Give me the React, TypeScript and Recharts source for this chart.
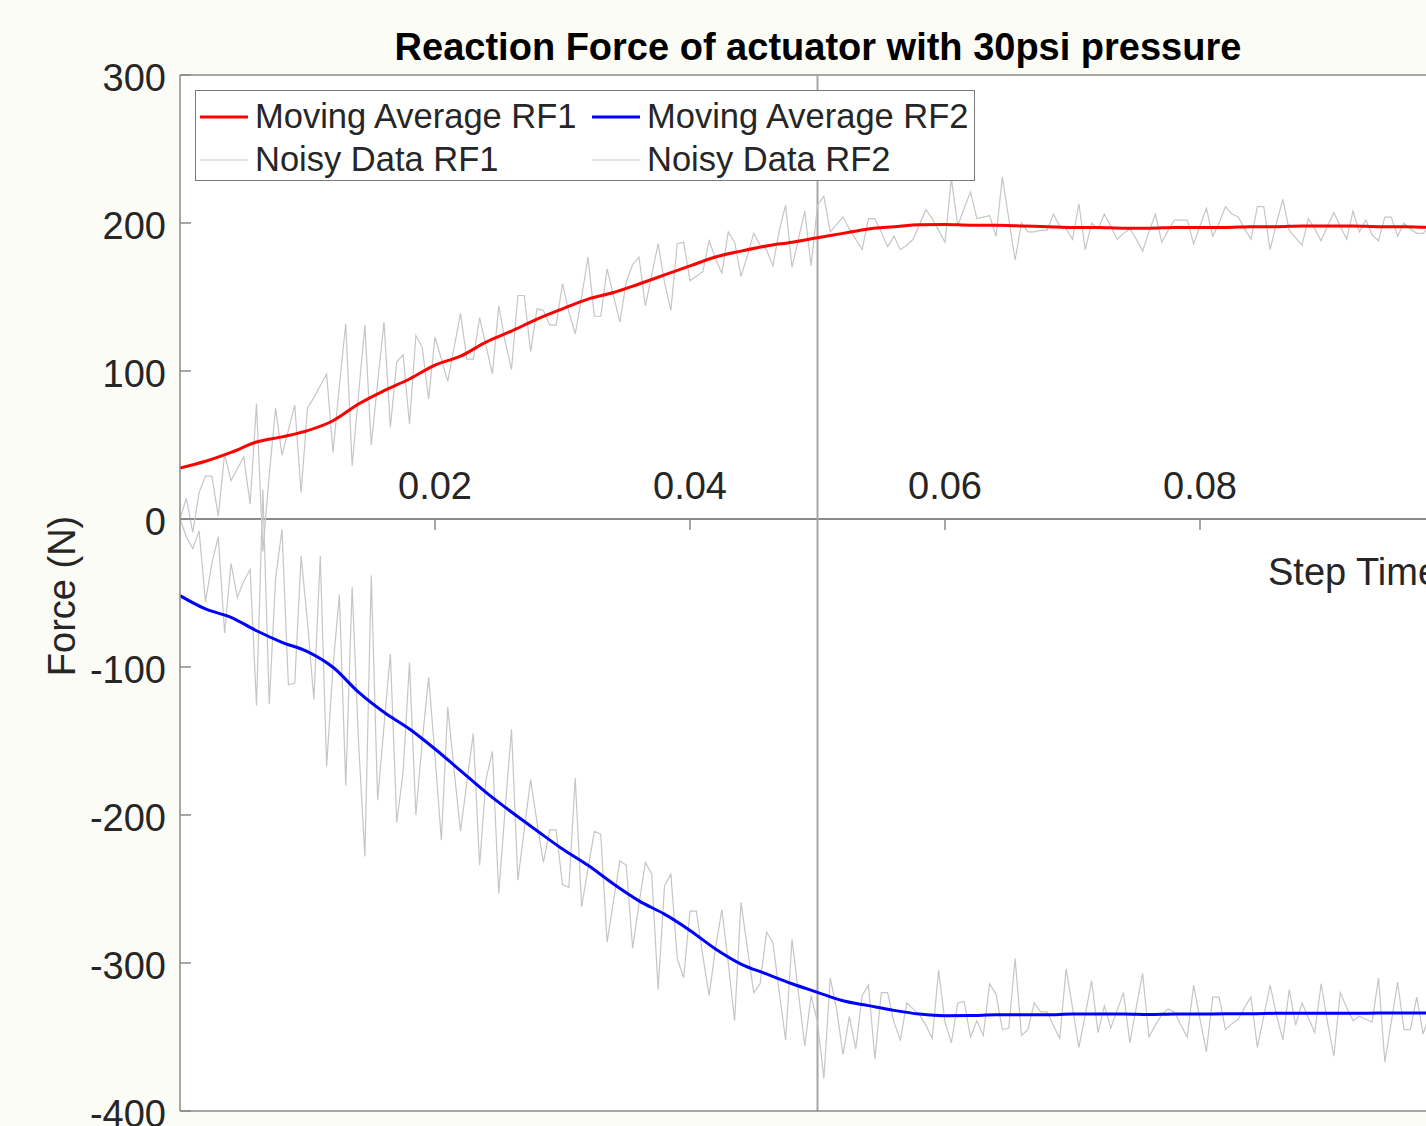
import { LineChart, Line, XAxis, YAxis, ReferenceLine, ReferenceDot, Legend, CartesianGrid } from 'recharts';

// sample spacing of the raw signal and of the moving average (s)
const STEP = 0.0005;
const AVG_STEP = 0.002;

const rf1Noisy = [
  0, 14, -9, 18, 29, 29, 2, 44, 26, 34,
  42, 10, 78, -22, 30, 75, 43, 60, 77, 18,
  75, 82, 90, 98, 45, 90, 132, 36, 84, 131,
  50, 92, 133, 62, 106, 111, 64, 124, 116, 81,
  123, 108, 93, 116, 139, 108, 108, 136, 117, 98,
  144, 120, 101, 151, 151, 113, 142, 141, 131, 131,
  159, 140, 125, 150, 177, 137, 137, 169, 151, 133,
  160, 172, 177, 144, 165, 186, 160, 141, 186, 187,
  161, 164, 167, 188, 176, 166, 194, 187, 164, 178,
  193, 185, 182, 171, 195, 212, 170, 189, 208, 171,
  212, 218, 194, 199, 204, 196, 189, 182, 203, 203,
  194, 184, 191, 182, 185, 189, 199, 209, 203, 195,
  187, 230, 198, 210, 221, 203, 204, 205, 191, 231,
  203, 175, 200, 194, 194, 195, 195, 206, 198, 196,
  189, 213, 182, 200, 196, 206, 198, 189, 193, 196,
  189, 181, 194, 206, 187, 195, 202, 202, 202, 186,
  198, 210, 191, 200, 211, 206, 204, 196, 189, 211,
  211, 182, 200, 216, 195, 190, 185, 203, 196, 188,
  198, 207, 198, 189, 208, 194, 202, 192, 188, 204,
  204, 191, 200, 196, 193, 193, 198, 192, 199, 195,
];

const rf2Noisy = [
  0, -12, -20, -8, -56, -30, -12, -77, -30, -53,
  -42, -34, -126, 20, -125, -40, -7, -112, -111, -25,
  -70, -122, -25, -167, -100, -51, -180, -46, -150, -228,
  -38, -190, -140, -91, -205, -171, -97, -200, -150, -107,
  -160, -217, -127, -170, -211, -178, -145, -234, -176, -157,
  -253, -196, -142, -244, -210, -176, -205, -232, -210, -210,
  -247, -249, -175, -262, -236, -211, -213, -286, -258, -231,
  -234, -290, -260, -232, -240, -318, -248, -240, -297, -310,
  -265, -265, -295, -322, -290, -264, -300, -339, -259, -290,
  -320, -314, -279, -286, -320, -352, -284, -320, -356, -322,
  -340, -378, -310, -331, -362, -336, -358, -322, -315, -365,
  -320, -320, -340, -352, -327, -331, -335, -342, -351, -305,
  -340, -354, -327, -326, -350, -339, -349, -314, -321, -345,
  -344, -297, -349, -345, -327, -333, -333, -342, -351, -304,
  -330, -357, -335, -312, -347, -329, -344, -332, -320, -354,
  -330, -307, -350, -342, -335, -331, -333, -342, -350, -315,
  -338, -360, -323, -323, -345, -341, -338, -330, -323, -357,
  -336, -315, -335, -352, -318, -342, -327, -337, -347, -314,
  -340, -363, -320, -330, -339, -336, -338, -340, -310, -367,
  -340, -313, -345, -345, -323, -348, -335, -328, -342, -334,
];

const rf1Avg = [
  34.5, 39, 45, 52, 55.5, 59.7, 66.4, 77.7, 86.7, 94.6,
  104, 110, 119.5, 127, 135, 142, 148.6, 153, 158.8, 164.9,
  171, 177, 181, 184.5, 187, 190, 193, 196, 197.5, 198.9,
  199, 198.5, 198.5, 198, 197.5, 197, 197, 196.5, 196.5, 197,
  197, 197, 197.5, 197.5, 198, 198, 198, 197.5, 197.5, 197,
  196.5,
];

const rf2Avg = [
  -51.8, -60.8, -66.4, -75.5, -83.3, -89.6, -100.2, -117, -130.6, -141.9,
  -155.4, -170, -184.7, -198, -210.6, -223, -234, -246.6, -258, -267,
  -278, -290.5, -300.7, -307.4, -314, -319.8, -325.5, -328.8, -332, -334.5,
  -335.6, -335.5, -335, -335, -335, -334.5, -334.5, -334.5, -334.8, -334.5,
  -334.5, -334.3, -334.3, -334, -334, -334, -334, -333.8, -333.8, -333.8,
  -333.8,
];

const xTicks = [0.02, 0.04, 0.06, 0.08];
const yTicks = [-400, -300, -200, -100, 0, 100, 200, 300];
const legendOrder = ['Moving Average RF1', 'Moving Average RF2', 'Noisy Data RF1', 'Noisy Data RF2'];

const FONT = '"Liberation Sans", Arial, Helvetica, sans-serif';
const TEXT = '#262626';
const AXIS = '#8a8a8a';

const toSeries = (values: number[], step: number) =>
  values.map((v, i) => ({ t: +(i * step).toFixed(4), v }));

const YTick = (props: any) => {
  const { x, y, payload } = props;
  return (
    <g>
      {/* inward tick, axis sits 14px right of the label anchor */}
      <line x1={x + 14} x2={x + 25} y1={y} y2={y} stroke={AXIS} strokeWidth={1.5} />
      <text x={x} y={y + 3} textAnchor="end" dominantBaseline="central" fontSize={38} fill={TEXT} fontFamily={FONT}>
        {payload.value}
      </text>
    </g>
  );
};

const ZeroTick = ({ cx, cy, label }: any) => (
  <g>
    <line x1={cx} x2={cx} y1={cy} y2={cy + 11} stroke={AXIS} strokeWidth={1.5} />
    <text x={cx} y={cy - 33} textAnchor="middle" dominantBaseline="central" fontSize={38} fill={TEXT} fontFamily={FONT}>
      {label}
    </text>
  </g>
);

const LegendBox = ({ payload }: any) => {
  const items = [...(payload || [])].sort(
    (a: any, b: any) => legendOrder.indexOf(a.value) - legendOrder.indexOf(b.value),
  );
  return (
    <div
      style={{
        boxSizing: 'border-box',
        width: 780,
        height: 91,
        border: '1.5px solid #7a7a7a',
        background: '#ffffff',
        display: 'grid',
        gridTemplateColumns: '392px 385px',
        paddingTop: 4,
        fontFamily: FONT,
        fontSize: 34.5,
        color: TEXT,
      }}
    >
      {items.map((item: any) => {
        const thick = item.value.startsWith('Moving');
        return (
          <div key={item.value} style={{ display: 'flex', alignItems: 'center', height: 43, paddingLeft: 4 }}>
            <svg width={48} height={10} style={{ marginRight: 7 }}>
              <line x1={0} x2={48} y1={5} y2={5} stroke={item.color} strokeWidth={thick ? 3 : 1} />
            </svg>
            <span style={{ lineHeight: 1, whiteSpace: 'nowrap' }}>{item.value}</span>
          </div>
        );
      })}
    </div>
  );
};

export default function App() {
  return (
    <div
      style={{
        position: 'fixed',
        left: 0,
        top: 0,
        width: 1426,
        height: 1126,
        overflow: 'hidden',
        background: '#fcfcf7',
        fontFamily: FONT,
      }}
    >
      <LineChart width={1470} height={1130} margin={{ top: 75, right: 15, bottom: 0, left: 0 }}>
        <CartesianGrid horizontal={false} vertical={false} fill="#ffffff" />
        <XAxis
          type="number"
          dataKey="t"
          domain={[0, 0.1]}
          allowDataOverflow
          ticks={[]}
          tick={false}
          tickLine={false}
          height={19}
          axisLine={{ stroke: AXIS, strokeWidth: 1.5 }}
        />
        <YAxis
          type="number"
          domain={[-400, 300]}
          ticks={yTicks}
          interval={0}
          width={180}
          tickSize={6}
          tickMargin={8}
          tickLine={false}
          tick={<YTick />}
          axisLine={{ stroke: AXIS, strokeWidth: 1.5 }}
        />
        <ReferenceLine y={300} stroke={AXIS} strokeWidth={1.5} />
        <ReferenceLine y={0} stroke={AXIS} strokeWidth={2} />
        <ReferenceLine x={0.05} stroke="#a6a6a6" strokeWidth={2} />
        {xTicks.map((t) => (
          <ReferenceDot
            key={t}
            x={t}
            y={0}
            r={1}
            shape={(p: any) => <ZeroTick {...p} label={t.toFixed(2)} />}
          />
        ))}
        <Line
          data={toSeries(rf1Noisy, STEP)}
          dataKey="v"
          name="Noisy Data RF1"
          type="linear"
          stroke="#c6c6c6"
          strokeWidth={1.2}
          dot={false}
          isAnimationActive={false}
        />
        <Line
          data={toSeries(rf2Noisy, STEP)}
          dataKey="v"
          name="Noisy Data RF2"
          type="linear"
          stroke="#c6c6c6"
          strokeWidth={1.2}
          dot={false}
          isAnimationActive={false}
        />
        <Line
          data={toSeries(rf1Avg, AVG_STEP)}
          dataKey="v"
          name="Moving Average RF1"
          type="monotone"
          stroke="#ff0000"
          strokeWidth={3}
          dot={false}
          isAnimationActive={false}
        />
        <Line
          data={toSeries(rf2Avg, AVG_STEP)}
          dataKey="v"
          name="Moving Average RF2"
          type="monotone"
          stroke="#0000ff"
          strokeWidth={3}
          dot={false}
          isAnimationActive={false}
        />
        <Legend
          layout="horizontal"
          verticalAlign="middle"
          content={<LegendBox />}
          wrapperStyle={{ top: 90, left: 195, width: 780, height: 91 }}
        />
        <text x={818} y={47} textAnchor="middle" dominantBaseline="central" fontSize={38} fontWeight="bold" fill="#000" fontFamily={FONT}>
          Reaction Force of actuator with 30psi pressure
        </text>
        <text
          x={62}
          y={596}
          transform="rotate(-90 62 596)"
          textAnchor="middle"
          dominantBaseline="central"
          fontSize={38}
          fill={TEXT}
          fontFamily={FONT}
        >
          Force (N)
        </text>
        <text x={1268} y={572} dominantBaseline="central" fontSize={38} fill={TEXT} fontFamily={FONT}>
          Step Time (s)
        </text>
      </LineChart>
    </div>
  );
}
